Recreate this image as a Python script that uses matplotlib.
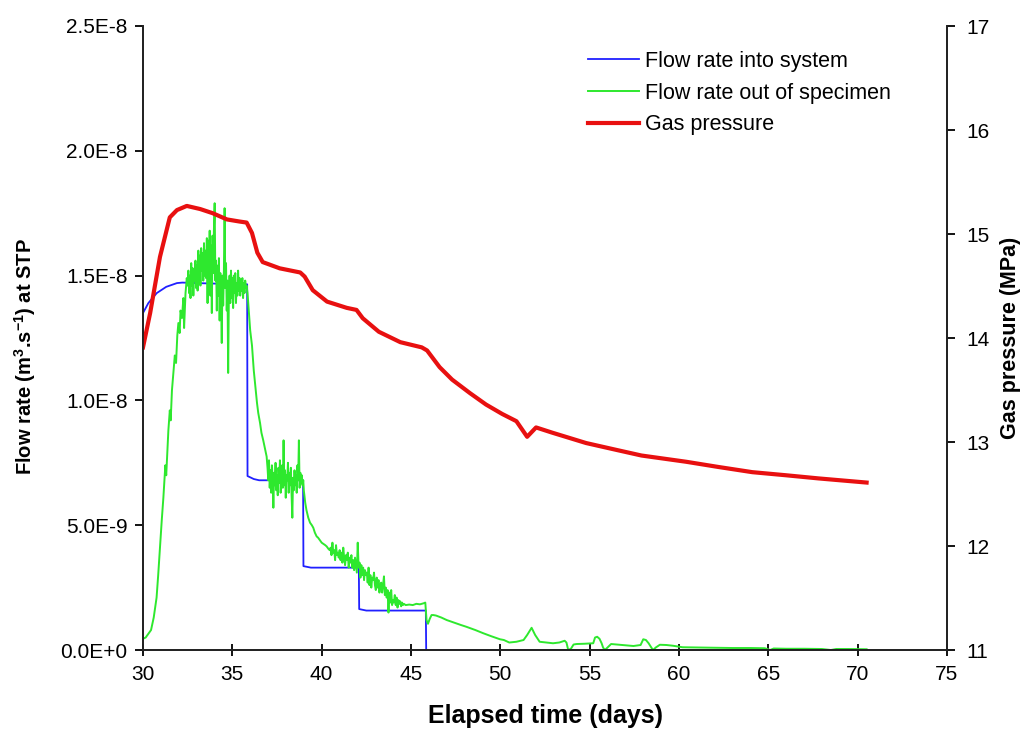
import numpy as np
import matplotlib
matplotlib.use("Agg")
import matplotlib.pyplot as plt
from matplotlib.ticker import FuncFormatter, MultipleLocator

plt.rcParams['font.family'] = ['Liberation Sans', 'DejaVu Sans']
plt.rcParams['mathtext.default'] = 'regular'

# ---- data (flow values in units of 1E-9 m3/s, pressure in MPa) ----
t_in = [30.0, 30.3, 30.77, 31.3, 31.9, 32.2, 33.0, 34.0, 35.0, 35.83, 35.85, 36.2, 36.5,
        38.96, 38.98, 39.4, 42.08, 42.1, 42.5, 45.83, 45.85, 70.5]
q_in = [13.5, 13.9, 14.3, 14.55, 14.7, 14.72, 14.7, 14.68, 14.67, 14.65, 6.97, 6.85, 6.8,
        6.8, 3.36, 3.3, 3.3, 1.64, 1.58, 1.58, 0.0, 0.0]

# outflow: rising limb
t_out_rise = [30.0, 30.15, 30.3, 30.45, 30.6, 30.76, 30.85, 30.95, 31.05, 31.14, 31.25, 31.3,
              31.42, 31.5, 31.55, 31.62, 31.7, 31.78, 31.85, 31.92, 31.98, 32.05, 32.1, 32.18,
              32.26, 32.3, 32.38, 32.45]
q_out_rise = [0.45, 0.5, 0.65, 0.8, 1.3, 2.1, 3.0, 4.1, 5.2, 6.1, 7.4, 7.0,
              8.8, 9.6, 9.2, 10.4, 11.1, 11.8, 11.5, 12.6, 13.1, 12.7, 13.6, 13.3,
              14.1, 12.9, 14.3, 14.9]
# outflow: noisy peak, 32.5 - 35.8 days
q_out_peak = [14.6, 15.2, 14.3, 15.0, 14.1, 15.5, 14.6, 15.3, 14.2, 15.1, 14.8, 15.6, 14.5,
              15.4, 14.4, 16.0, 15.1, 15.8, 14.6, 16.1, 15.2, 15.9, 14.8, 16.3, 15.0, 16.0, 14.9, 16.5,
              13.9, 16.4, 15.0, 16.8, 14.2, 16.2, 13.5, 16.6, 15.1, 16.9,
              17.9, 14.8, 15.6, 13.6, 15.4, 14.2, 15.7, 13.2, 15.1, 14.0, 12.3, 15.0, 13.8,
              15.2, 17.7, 14.5, 15.5, 13.6, 14.8, 11.1, 14.2, 15.0, 13.9,
              15.2, 14.1, 14.9, 13.7, 15.0, 14.3, 15.1, 13.9, 14.7, 14.2, 15.2, 14.4, 14.9,
              14.2, 14.8, 14.4, 14.9, 14.1, 14.7, 14.3, 14.8, 14.5, 14.6]
t_out_drop1 = [35.85, 35.92, 36.0, 36.1, 36.2, 36.3, 36.38, 36.45, 36.55, 36.63, 36.73, 36.82, 36.92]
q_out_drop1 = [14.3, 13.6, 12.8, 12.2, 11.2, 10.5, 9.9, 9.5, 9.1, 8.7, 8.4, 8.1, 7.75]
# noisy plateau, 36.97 - 38.97 days
q_out_step2 = [7.3, 6.8, 7.6, 6.5, 7.2, 6.3, 7.4, 6.9, 5.7, 7.1, 6.6, 7.5, 6.4, 7.0, 6.2, 7.3,
               6.7, 7.6, 6.3, 6.9, 7.4, 6.5, 8.4, 6.6, 7.2, 6.1, 7.0, 6.8, 7.5, 6.3, 7.1, 6.6,
               7.3, 6.2, 5.3, 6.9, 6.4, 7.2, 6.6, 7.0, 6.3, 7.4, 6.8, 8.4, 6.5, 7.1, 6.7, 7.0,
               6.6, 6.8]
t_out_drop2 = [39.0, 39.08, 39.15, 39.25, 39.35, 39.45, 39.53, 39.62, 39.72, 39.8, 39.9, 40.0,
               40.1, 40.2, 40.28, 40.38, 40.45]
q_out_drop2 = [6.4, 5.9, 5.6, 5.3, 5.1, 5.0, 4.9, 4.7, 4.55, 4.5, 4.4, 4.3,
               4.25, 4.2, 4.15, 4.05, 4.0]
# noisy decline, 40.5 - 44.6 days
q_out_step3 = [4.1, 3.8, 4.3, 3.9, 4.0, 3.6, 4.2, 3.8, 3.9, 3.7,
               4.0, 3.6, 3.9, 3.5, 4.1, 3.7, 3.4, 3.8, 3.6, 3.9, 3.3, 3.7,
               3.5, 3.8, 3.3, 3.6, 3.2, 3.7, 3.4, 3.1, 4.3, 3.3,
               3.5, 2.9, 3.4, 3.0, 3.3, 2.8, 3.2, 3.0,
               3.1, 2.7, 3.3, 2.6, 3.0, 2.5, 2.9, 2.8,
               3.1, 2.6, 2.4, 2.9, 2.5, 2.8, 2.3, 2.6,
               2.7, 2.3, 2.6, 2.95, 2.2, 2.5, 2.1,
               2.4, 1.5, 2.3, 1.9, 2.4, 1.8, 2.0,
               1.9, 2.2, 1.8, 2.1, 1.7, 2.0, 1.85, 1.95, 1.75, 1.9, 1.8, 1.85]
t_out_tail = [44.7, 44.9, 45.1, 45.3, 45.5, 45.7, 45.8, 45.87, 45.95, 46.05, 46.15, 46.25,
              46.4, 46.7, 47.0, 47.4, 47.8, 48.1, 48.6, 49.05, 49.5, 49.98, 50.2, 50.5, 50.9,
              51.3, 51.5, 51.75, 51.95, 52.2, 52.6, 52.95, 53.3, 53.6, 53.7, 53.8, 53.95, 54.1,
              54.27, 54.7, 55.2, 55.3, 55.42, 55.55, 55.67, 55.75, 55.85, 56.0, 56.2, 56.8,
              57.45, 57.85, 58.0, 58.15, 58.3, 58.45, 58.55, 58.7, 58.93, 59.3, 59.67, 60.2,
              61.0, 62.0, 63.0, 64.0, 64.8, 65.1, 65.3, 66.0, 67.0, 68.0, 68.5, 68.8, 69.5, 70.5]
q_out_tail = [1.8, 1.82, 1.8, 1.85, 1.83, 1.87, 1.9, 1.2, 1.05, 1.25, 1.4, 1.4,
              1.38, 1.3, 1.2, 1.1, 1.0, 0.93, 0.8, 0.67, 0.55, 0.43, 0.4, 0.3, 0.33,
              0.4, 0.6, 0.89, 0.6, 0.33, 0.3, 0.27, 0.3, 0.37, 0.3, 0.0, 0.05, 0.22,
              0.24, 0.25, 0.27, 0.5, 0.53, 0.45, 0.27, 0.1, 0.0, 0.1, 0.24, 0.2,
              0.16, 0.2, 0.43, 0.4, 0.27, 0.1, 0.0, 0.1, 0.21, 0.2, 0.17, 0.11,
              0.1, 0.09, 0.08, 0.08, 0.07, 0.0, 0.06, 0.05, 0.05, 0.04, 0.0, 0.04, 0.04, 0.03]

t_p = [30.0, 30.4, 30.95, 31.5, 31.9, 32.45, 33.2, 33.9, 34.7, 35.4, 35.8, 36.1, 36.4, 36.7,
       37.65, 38.8, 39.05, 39.5, 40.3, 41.4, 41.95, 42.3, 43.2, 44.4, 45.6, 45.9, 46.6, 47.3,
       48.3, 49.2, 50.1, 50.9, 51.5, 52.0, 52.9, 54.8, 56.6, 57.9, 60.4, 62.2, 64.1, 66.0,
       67.8, 70.5]
p_gas = [13.91, 14.24, 14.78, 15.16, 15.23, 15.27, 15.24, 15.2, 15.14, 15.12, 15.11, 15.01,
         14.82, 14.73, 14.67, 14.63, 14.59, 14.46, 14.35, 14.29, 14.27, 14.19, 14.06, 13.96,
         13.91, 13.88, 13.72, 13.6, 13.47, 13.36, 13.27, 13.2, 13.05, 13.14, 13.09, 12.99,
         12.92, 12.87, 12.81, 12.76, 12.71, 12.68, 12.65, 12.61]

t_out = np.concatenate([t_out_rise,
                        np.linspace(32.5, 35.8, len(q_out_peak)),
                        t_out_drop1,
                        np.linspace(36.97, 38.97, len(q_out_step2)),
                        t_out_drop2,
                        np.linspace(40.5, 44.6, len(q_out_step3)),
                        t_out_tail])
q_out = np.concatenate([q_out_rise, q_out_peak, q_out_drop1, q_out_step2,
                        q_out_drop2, q_out_step3, q_out_tail]) * 1e-9


def sci_fmt(v, pos):
    if v == 0:
        return "0.0E+0"
    e = int(np.floor(np.log10(abs(v)) + 1e-9))
    m = v / 10 ** e
    return f"{m:.1f}E{e:+d}" if e >= 0 else f"{m:.1f}E{e:d}"


fig = plt.figure(figsize=(10.27, 7.34), dpi=100)
ax = fig.add_axes([143 / 1027, 1 - 650 / 734, (947 - 143) / 1027, (650 - 26) / 734])
ax2 = ax.twinx()

l1, = ax.plot(t_in, np.array(q_in) * 1e-9, color='#2020ff', lw=1.3, label='Flow rate into system')
l2, = ax.plot(t_out, q_out, color='#2ee82e', lw=1.4, label='Flow rate out of specimen')
l3, = ax2.plot(t_p, p_gas, color='#e81010', lw=3.0, label='Gas pressure')

ax.set_xlim(30, 75)
ax.set_ylim(0, 2.5e-8)
ax2.set_ylim(11, 17)
ax.xaxis.set_major_locator(MultipleLocator(5))
ax.yaxis.set_major_locator(MultipleLocator(5e-9))
ax2.yaxis.set_major_locator(MultipleLocator(1))
ax.yaxis.set_major_formatter(FuncFormatter(sci_fmt))

for a in (ax, ax2):
    a.spines['top'].set_visible(False)
    for s in ('left', 'right', 'bottom'):
        a.spines[s].set_linewidth(1.3)
        a.spines[s].set_color('#222222')
ax.tick_params(axis='x', direction='inout', length=9, width=1.3, labelsize=15, pad=6)
ax.tick_params(axis='y', direction='out', length=6, width=1.3, labelsize=15, pad=5)
ax2.tick_params(axis='y', direction='out', length=6, width=1.3, labelsize=15, pad=8)

ax.set_xlabel('Elapsed time (days)', fontsize=18, fontweight='bold')
ax.xaxis.set_label_coords(0.5, -0.087)
ax.set_ylabel('Flow rate (m$^{3}$.s$^{-1}$) at STP', fontsize=14.5, fontweight='bold')
ax.yaxis.set_label_coords(-0.13, 0.47)
ax2.set_ylabel('Gas pressure (MPa)', fontsize=15.5, fontweight='bold')
ax2.yaxis.set_label_coords(1.066, 0.5)

ax.legend(handles=[l1, l2, l3], loc='upper left', bbox_to_anchor=(0.553, 0.96),
          frameon=False, fontsize=15.5, handlelength=2.4, handletextpad=0.25,
          labelspacing=0.5, borderaxespad=0, borderpad=0)

fig.savefig('out.png', dpi=100)
